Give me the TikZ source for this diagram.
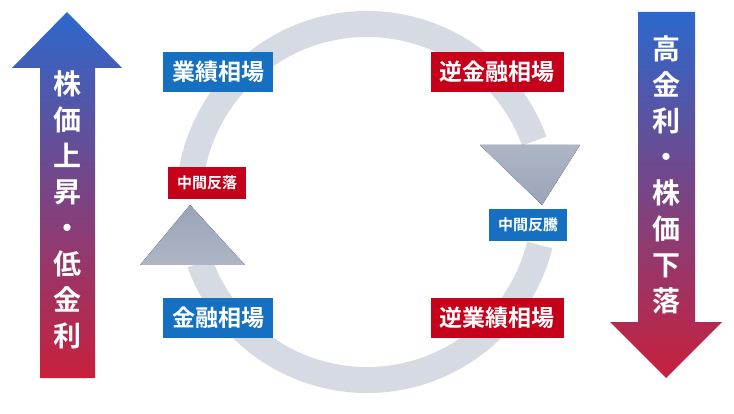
\documentclass[tikz,border=0pt]{standalone}
\usepackage{fontspec}
\newfontfamily\jp{Noto Sans CJK JP Bold}
\definecolor{cblue}{HTML}{1670C2}
\definecolor{cred}{HTML}{C4001A}
\definecolor{ablue}{HTML}{2C68CC}
\definecolor{ared}{HTML}{C8203C}
\definecolor{ring}{HTML}{D6DAE3}
\definecolor{ringd}{HTML}{9AA4B7}
\begin{document}
\begin{tikzpicture}[x=1pt,y=-1pt,
  lab/.style={fill=#1,text=white,font=\jp\fontsize{23}{26}\selectfont,minimum height=40pt,inner xsep=9pt},
  slab/.style={fill=#1,text=white,font=\jp\fontsize{15}{17}\selectfont,minimum height=32pt,inner xsep=9pt},
  vtext/.style={text=white,font=\jp\fontsize{28}{36}\selectfont,align=center}]
\useasboundingbox (0,0) rectangle (734,414);
% ring
\draw[ring,line width=26pt] ([shift={(-171:178)}]367,202) arc[start angle=-171,end angle=-20,radius=178];
\draw[ring,line width=26pt] ([shift={(14:178)}]367,202) arc[start angle=14,end angle=160,radius=178];
\fill[top color=ringd!80,bottom color=ringd] (480,145) -- (580,145) -- (542,205) -- cycle;
\fill[top color=ringd,bottom color=ringd!80] (140,265) -- (245,265) -- (190,205) -- cycle;
% left arrow
\shade[top color=ablue,bottom color=ared] (40,378) -- (40,68) -- (12,68) -- (67,12) -- (122,68) -- (95,68) -- (95,378) -- cycle;
\node[vtext] (lt) at (67,210) {株\\価\\上\\昇\\・\\低\\金\\利};
% right arrow
\shade[top color=ablue,bottom color=ared] (638,12) -- (695,12) -- (695,322) -- (722,322) -- (666,378) -- (610,322) -- (638,322) -- cycle;
\node[vtext] (rt) at (666,175) {高\\金\\利\\・\\株\\価\\下\\落};
% labels
\node[lab=cblue] (a) at (218,72) {業績相場};
\node[lab=cred] (b) at (497,72) {逆金融相場};
\node[slab=cred] (c) at (207,183) {中間反落};
\node[slab=cblue] (d) at (528,225) {中間反騰};
\node[lab=cblue] (e) at (218,318) {金融相場};
\node[lab=cred] (f) at (497,318) {逆業績相場};
\end{tikzpicture}
\end{document}
